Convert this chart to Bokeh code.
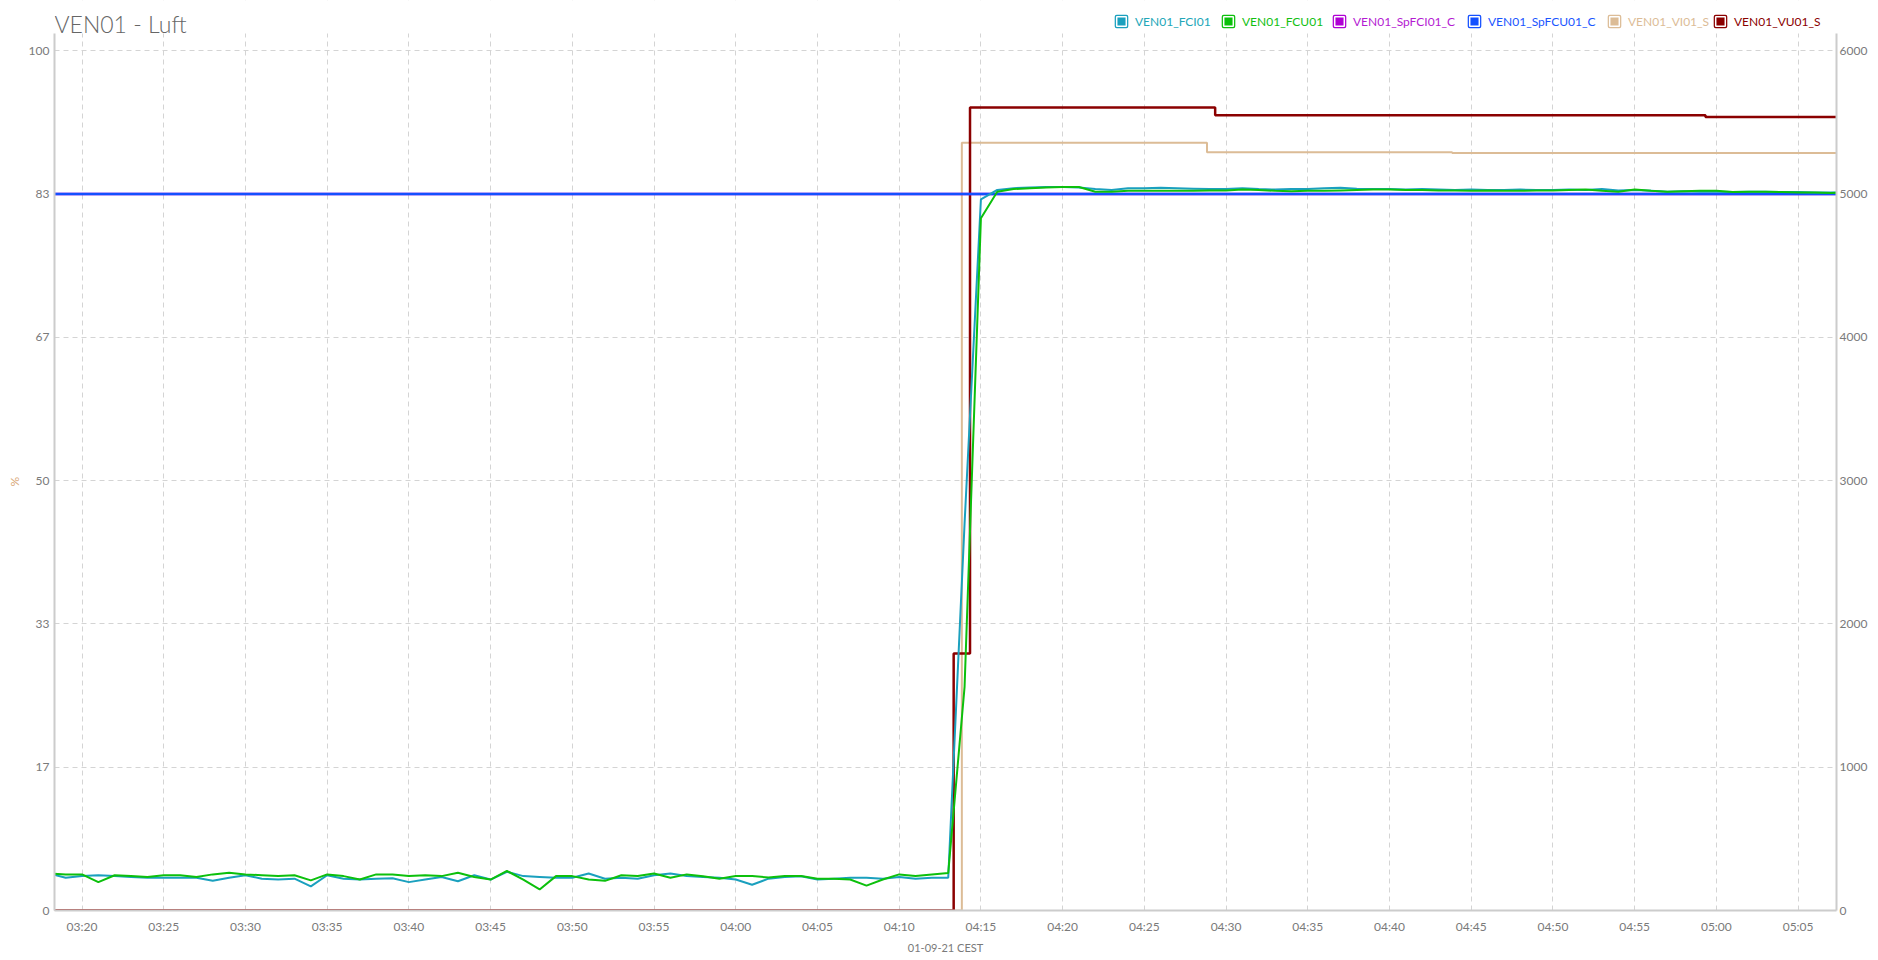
import pandas as pd
from bokeh.plotting import figure
from bokeh.models import (Range1d, LinearAxis, FixedTicker, DatetimeTickFormatter, Title,
                          CustomJSTickFormatter, Legend, LegendItem, Label, ColumnDataSource,
                          BoxAnnotation)
from bokeh.embed import file_html
from bokeh.resources import INLINE

DAY = "2021-09-01 "
X_START, X_END = "03:18:19", "05:07:21"

# ---------------- data ----------------
series_names = ["VEN01_FCI01", "VEN01_FCU01", "VEN01_SpFCI01_C",
                "VEN01_SpFCU01_C", "VEN01_VI01_S", "VEN01_VU01_S"]
series_colors = ["#1aa0be", "#0cc00c", "#b000d4", "#1450ff", "#dcbc96", "#8b0000"]
label_colors = ["#22a6b8", "#12c012", "#b41ad2", "#1a55ff", "#dcbc96", "#8b0000"]

# one sample per minute, 03:18 .. 05:08  (values in %)
fc_first, fc_last = "03:18", "05:08"
fci01 = [4.3, 3.8, 4.0, 4.1, 4.0, 3.9, 3.8, 3.8, 3.8, 3.8, 3.45, 3.8, 4.1, 3.7, 3.6, 3.7, 2.8, 4.1, 3.7, 3.6,
         3.7, 3.75, 3.3, 3.6, 3.9, 3.4, 4.1, 3.6, 4.5, 4.0, 3.9, 3.8, 3.8, 4.3, 3.7, 3.8, 3.7, 4.1, 4.3,
         4.0, 3.9, 3.8, 3.6, 3.0, 3.7, 3.9, 3.98, 3.6, 3.7, 3.8, 3.8, 3.7, 3.9, 3.7, 3.8, 3.8,
         45.0, 82.7,
         83.8, 84.0, 84.1, 84.15, 84.15, 84.1, 83.9, 83.8, 84.0, 84.0, 84.05, 84.0, 83.95, 83.9, 83.9, 84.0, 83.9, 83.85, 83.9,
         83.9, 84.0, 84.05, 83.95, 83.9, 83.9, 83.85, 83.9, 83.85, 83.8, 83.85, 83.8, 83.8, 83.85, 83.8, 83.8, 83.85,
         83.8, 83.9, 83.75, 83.8, 83.7, 83.6, 83.65, 83.6, 83.6, 83.55, 83.6, 83.6, 83.55, 83.55, 83.5, 83.5, 83.5]
fcu01 = [4.3, 4.2, 4.2, 3.3, 4.1, 4.0, 3.9, 4.1, 4.1, 3.9, 4.2, 4.4, 4.2, 4.1, 4.0, 4.1, 3.5, 4.2, 4.0, 3.6,
         4.2, 4.2, 4.0, 4.1, 4.0, 4.4, 3.9, 3.6, 4.6, 3.6, 2.45, 4.0, 4.0, 3.6, 3.45, 4.1, 4.0, 4.3, 3.8,
         4.2, 3.98, 3.7, 4.0, 4.0, 3.85, 4.0, 4.0, 3.7, 3.7, 3.6, 2.9, 3.6, 4.2, 4.0, 4.2, 4.35,
         26.0, 80.5,
         83.6, 83.9, 84.0, 84.1, 84.15, 84.15, 83.6, 83.6, 83.7, 83.7, 83.7, 83.7, 83.7, 83.75, 83.75, 83.85, 83.8, 83.7, 83.65,
         83.7, 83.7, 83.75, 83.8, 83.85, 83.85, 83.8, 83.8, 83.75, 83.75, 83.7, 83.75, 83.7, 83.7, 83.75, 83.75, 83.8,
         83.85, 83.7, 83.6, 83.85, 83.7, 83.6, 83.65, 83.7, 83.7, 83.55, 83.6, 83.6, 83.55, 83.5, 83.5, 83.45, 83.5]

sp_times = [X_START, X_END]
spfci01_c = [83.33, 83.33]
spfcu01_c = [83.33, 83.33]

vi_times = [X_START, "04:13:50", "04:28:50", "04:43:50", X_END]
vi01_s = [0.0, 89.3, 88.2, 88.1, 88.1]

vu_times = [X_START, "04:13:20", "04:14:20", "04:29:20", "04:59:20", X_END]
vu01_s = [0.0, 29.9, 93.4, 92.5, 92.3, 92.3]

pct_ticks = [0, 16.6667, 33.3333, 50, 66.6667, 83.3333, 100]
right_ticks = [0, 1000, 2000, 3000, 4000, 5000, 6000]
x_tick_first, x_tick_last = "03:20", "05:05"
PCT_TOP, RIGHT_TOP = 102, 6120          # top of the drawn axes

title_text = "VEN01 - Luft"
x_title = "01-09-21 CEST"
y_title = "%"

# ---------------- helpers ----------------
def ts(t):
    return pd.to_datetime(DAY + t)

fc_t = pd.date_range(ts(fc_first), ts(fc_last), freq="1min")
n = min(len(fc_t), len(fci01), len(fcu01))
fc_src = ColumnDataSource(dict(t=fc_t[:n], fci=fci01[:n], fcu=fcu01[:n]))
x_ticks = [int(v.value // 10**6) for v in pd.date_range(ts(x_tick_first), ts(x_tick_last), freq="5min")]

W, H = 1870, 956
BL, BR, BT, BB = 53, 31, 0, 40
FW = W - BL - BR
FH = H - BT - BB                 # 916: frame runs from canvas top to the x axis
PX_PER_PCT = 8.655
y_top = FH / PX_PER_PCT

p = figure(width=W, height=H, x_axis_type="datetime", title_location=None,
           x_range=Range1d(ts(X_START), ts(X_END)), y_range=Range1d(0, y_top),
           output_backend="svg", toolbar_location=None,
           min_border_left=BL, min_border_right=BR, min_border_top=BT, min_border_bottom=BB,
           outline_line_color=None, background_fill_color="white", border_fill_color="white")
p.extra_y_ranges = {"right": Range1d(0, y_top * RIGHT_TOP / PCT_TOP)}
right_axis = LinearAxis(y_range_name="right", ticker=FixedTicker(ticks=right_ticks),
                        bounds=(0, RIGHT_TOP))
p.add_layout(right_axis, "right")

FONT = "Lato"
for ax in [p.xaxis[0], p.yaxis[0], right_axis]:
    ax.axis_line_color = "#cccccc"
    ax.axis_line_width = 2
    ax.major_tick_line_color = None
    ax.minor_tick_line_color = None
    ax.major_tick_out = 0
    ax.major_tick_in = 0
    ax.minor_tick_out = 0
    ax.major_label_text_font = FONT
    ax.major_label_text_font_size = "12px"
    ax.major_label_text_color = "#7a7a7a"
    ax.major_label_standoff = 5

right_axis.major_label_standoff = 3

yl = p.yaxis[0]
yl.ticker = FixedTicker(ticks=pct_ticks)
yl.formatter = CustomJSTickFormatter(code="return Math.round(tick).toString();")
yl.bounds = (0, PCT_TOP)

xa = p.xaxis[0]
xa.ticker = FixedTicker(ticks=x_ticks)
xa.formatter = DatetimeTickFormatter(minsec="%H:%M", minutes="%H:%M", hourmin="%H:%M", hours="%H:%M")
xa.major_label_standoff = 8

for g in [p.xgrid[0], p.ygrid[0]]:
    g.grid_line_color = "#d4d4d4"
    g.grid_line_dash = "5 4"
    g.grid_line_width = 1

# white band above the axes' top (hides the grid there; title and legend sit on it)
p.add_layout(BoxAnnotation(bottom=PCT_TOP, fill_color="white", fill_alpha=1.0,
                           line_color=None, level="underlay"))

# ---------------- series ----------------
p.step([ts(t) for t in vi_times], vi01_s, mode="after", line_color=series_colors[4], line_width=2)
p.step([ts(t) for t in vu_times], vu01_s, mode="after", line_color=series_colors[5], line_width=2.5)
p.line([ts(t) for t in sp_times], spfci01_c, line_color=series_colors[2], line_width=2.5)
p.line([ts(t) for t in sp_times], spfcu01_c, line_color=series_colors[3], line_width=2.5)
p.line("t", "fci", source=fc_src, line_color=series_colors[0], line_width=2)
p.line("t", "fcu", source=fc_src, line_color=series_colors[1], line_width=2)

# ---------------- legend (one per item for per-item text colours) ----------------
legend_centers = [1121, 1228, 1339, 1474, 1614, 1720]   # page px of marker centres
GL = 24
LEG_CY = 20
PAD = 15
for name, col, tcol, cx in zip(series_names, series_colors, label_colors, legend_centers):
    # swatch renderers: one point with no y value, so only the legend shows them
    r1 = p.scatter(x=[ts(X_START)], y=[float("nan")], marker="square", size=11,
                   fill_color=col, line_color=col, line_width=4, line_join="round")
    r2 = p.scatter(x=[ts(X_START)], y=[float("nan")], marker="square", size=11,
                   fill_color=col, line_color="white", line_width=1.5)
    leg = Legend(items=[LegendItem(label=name, renderers=[r1, r2])],
                 location=(cx - GL / 2 - BL - PAD + 14, FH - (LEG_CY + GL / 2) - PAD + 8),
                 orientation="horizontal", padding=PAD, margin=0, spacing=0,
                 label_standoff=2, glyph_width=GL, glyph_height=GL, label_height=GL,
                 label_width=110,
                 label_text_font=FONT, label_text_font_size="12px", label_text_color=tcol,
                 label_text_baseline="middle",
                 background_fill_alpha=0, border_line_color=None)
    p.add_layout(leg)

p.add_layout(Label(x=0, y=FH - 29, x_units="screen", y_units="screen", text=title_text,
                   text_font="Lato Light, Lato", text_font_size="23px", text_color="#666666",
                   text_baseline="alphabetic"))

p.add_layout(Title(text=x_title, align="center", text_font=FONT, text_font_size="11px",
                   text_font_style="normal", text_color="#7a7a7a", standoff=5), "below")
p.add_layout(Title(text=y_title, align="left", offset=424, text_font=FONT, text_font_size="12px",
                   text_font_style="normal", text_color="#d9a877", standoff=8), "left")

open("out.html", "w").write(file_html(p, INLINE))
